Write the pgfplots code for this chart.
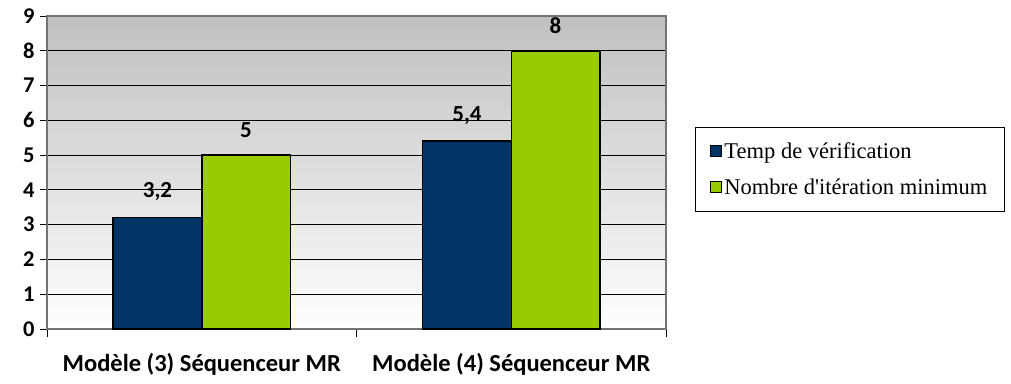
\documentclass[border=0pt]{standalone}
\usepackage{pgfplots}
\pgfplotsset{compat=1.18}
\usepackage{fontspec}
\setmainfont{Liberation Serif}
\newfontfamily\carlito{Carlito}
\definecolor{navy}{HTML}{003366}
\definecolor{lime}{HTML}{99CC00}
\begin{document}
\begin{tikzpicture}[x=1pt,y=1pt]
\begin{axis}[
  at={(47pt,54pt)}, anchor=south west,
  scale only axis, width=619pt, height=313pt,
  xmin=-0.5, xmax=1.5, ymin=0, ymax=9,
  ytick={0,...,9},
  xtick={0,1},
  xticklabels={Modèle (3) Séquenceur MR, Modèle (4) Séquenceur MR},
  minor xtick={-0.5,0.5,1.5},
  xtick pos=bottom, ytick pos=left,
  tick align=outside,
  major tick length=7pt, minor tick length=8pt,
  major x tick style={draw=none},
  minor x tick style={black, line width=0.8pt},
  major y tick style={black, line width=0.8pt},
  ymajorgrids,
  grid style={black, line width=0.8pt},
  axis line style={draw=black!55, line width=1.2pt},
  axis background/.style={top color=black!25, bottom color=white},
  /pgf/number format/assume math mode=true,
  yticklabel style={font=\carlito\bfseries\fontsize{22.5}{22.5}\selectfont, xshift=-2pt},
  xticklabel style={font=\carlito\bfseries\fontsize{24.5}{24.5}\selectfont, yshift=-14pt},
  ybar, bar width=0.286,
  point meta=explicit symbolic,
  nodes near coords,
  nodes near coords style={font=\carlito\bfseries\fontsize{23}{23}\selectfont, anchor=south, yshift=13pt},
  legend style={at={(1.047,0.645)}, anchor=north west, draw=black, line width=0.8pt,
    font=\fontsize{22.5}{22.5}\selectfont, inner xsep=15pt, inner ysep=13pt,
    row sep=15pt},
  legend cell align=left,
  legend image code/.code={\draw[#1, draw=black, line width=1pt] (0pt,-5.5pt) rectangle (11pt,5.5pt);},
]
\addplot[fill=navy, draw=black, line width=1.5pt, bar shift=-0.143] coordinates {(0,3.2) [3,2] (1,5.4) [5,4]};
\addplot[fill=lime, draw=black, line width=1.5pt, bar shift=0.143] coordinates {(0,5) [5] (1,8) [8]};
\legend{Temp de vérification, Nombre d\textquotesingle itération minimum}
\end{axis}
\pgfresetboundingbox
\path[use as bounding box] (0,0) rectangle (1011pt,383pt);
\end{tikzpicture}
\end{document}
